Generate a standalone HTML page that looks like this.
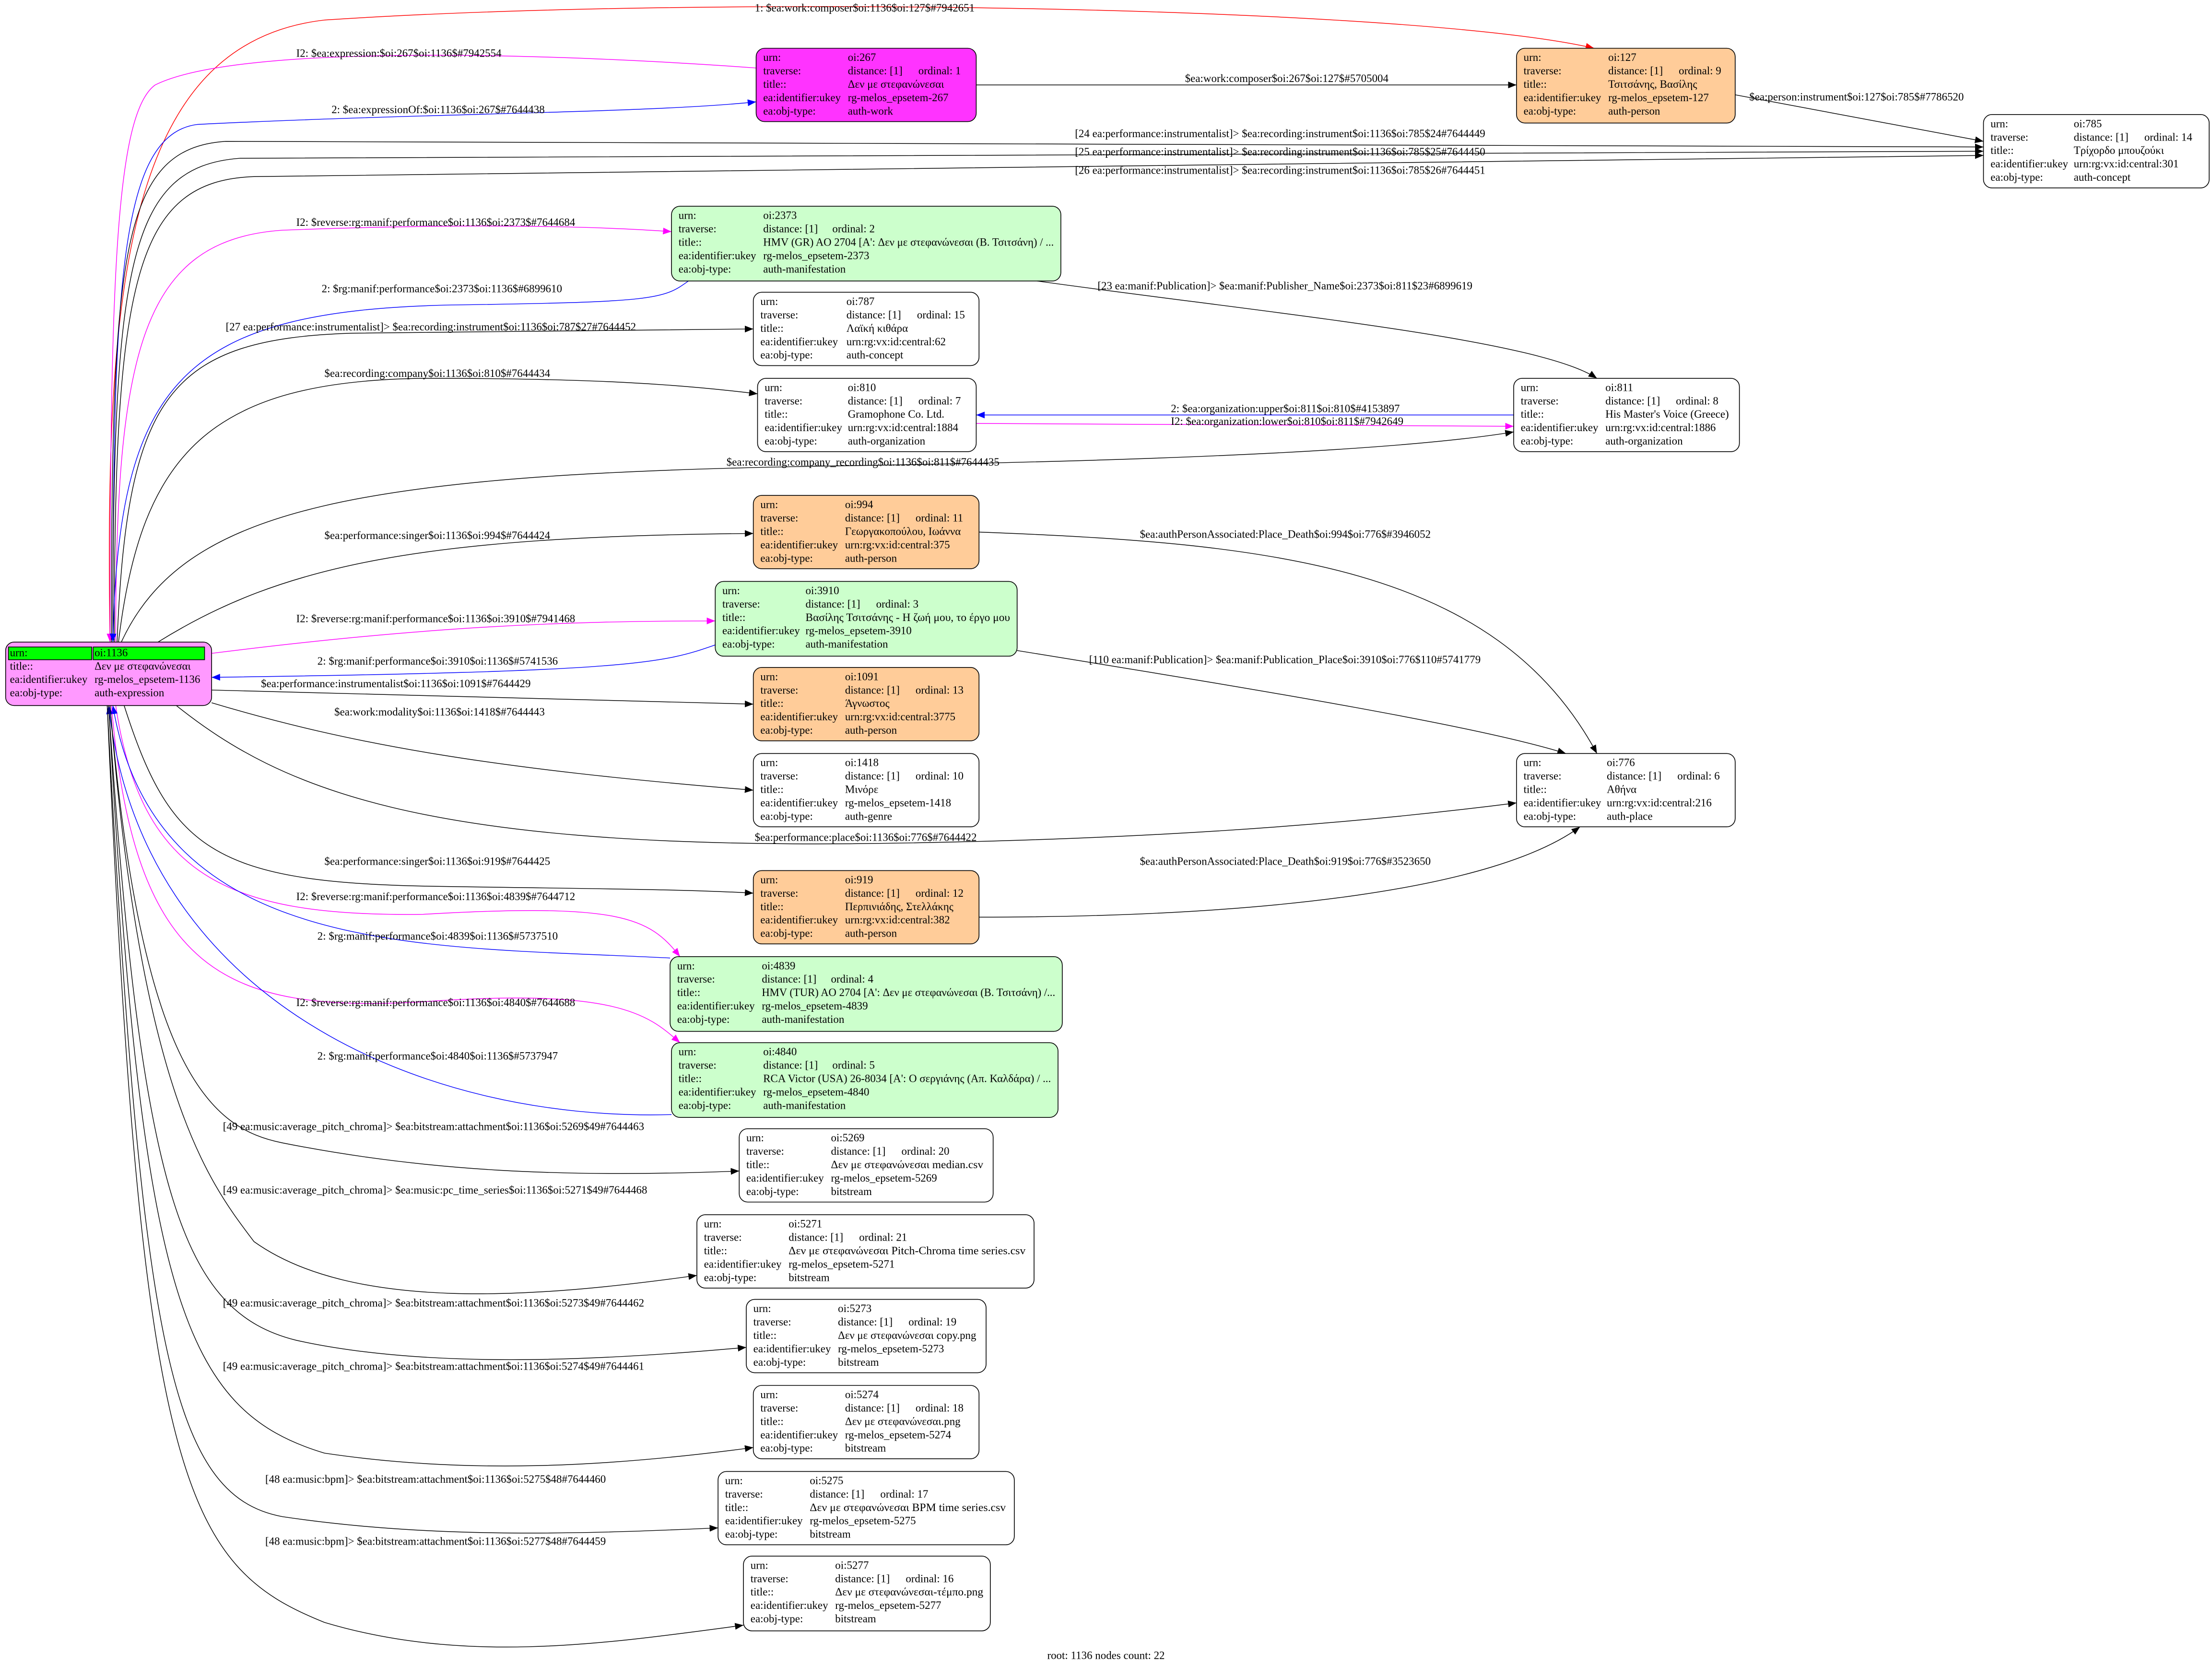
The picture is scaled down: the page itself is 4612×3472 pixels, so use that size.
<!DOCTYPE html>
<html><head><meta charset="utf-8"><style>
html,body{margin:0;padding:0;background:#fff}
svg{display:block}
text{font-family:"Liberation Serif","DejaVu Serif",serif;font-size:7.8px;fill:#000}
.n rect{stroke:#000;stroke-width:0.55}
.e{fill:none;stroke-width:0.5}
</style></head><body>
<svg width="4612" height="3472" viewBox="0 0 1568 1180" xmlns="http://www.w3.org/2000/svg">
<defs>
<marker id="ak" viewBox="0 0 10 10" refX="10" refY="5" markerWidth="6" markerHeight="6" markerUnits="userSpaceOnUse" orient="auto"><path d="M0,1 L10,5 L0,9z" fill="#000"/></marker>
<marker id="ar" viewBox="0 0 10 10" refX="10" refY="5" markerWidth="6" markerHeight="6" markerUnits="userSpaceOnUse" orient="auto"><path d="M0,1 L10,5 L0,9z" fill="#f00"/></marker>
<marker id="ab" viewBox="0 0 10 10" refX="10" refY="5" markerWidth="6" markerHeight="6" markerUnits="userSpaceOnUse" orient="auto"><path d="M0,1 L10,5 L0,9z" fill="#00f"/></marker>
<marker id="am" viewBox="0 0 10 10" refX="10" refY="5" markerWidth="6" markerHeight="6" markerUnits="userSpaceOnUse" orient="auto"><path d="M0,1 L10,5 L0,9z" fill="#f0f"/></marker>
</defs>
<rect width="1568" height="1180" fill="#fff"/>

<g>
<path class="e" stroke="#f00" marker-end="url(#ar)" d="M78,455 C74,200 90,30 230,14 C500,-4 1000,4 1130,34"/>
<text x="535" y="8">1: $ea:work:composer$oi:1136$oi:127$#7942651</text>
<path class="e" stroke="#f0f" marker-end="url(#am)" d="M536,48 C400,38 170,30 110,60 C82,80 78,200 78,455"/>
<text x="210" y="40">I2: $ea:expression:$oi:267$oi:1136$#7942554</text>
<path class="e" stroke="#00f" marker-end="url(#ab)" d="M80,455 C80,200 85,95 140,88 C300,80 460,80 536,72"/>
<text x="235" y="80">2: $ea:expressionOf:$oi:1136$oi:267$#7644438</text>
<path class="e" stroke="#000" marker-end="url(#ak)" d="M692,60 L1075,60"/>
<text x="840" y="58">$ea:work:composer$oi:267$oi:127$#5705004</text>
<path class="e" stroke="#000" marker-end="url(#ak)" d="M1230,67 L1406,100"/>
<text x="1240" y="71">$ea:person:instrument$oi:127$oi:785$#7786520</text>
<path class="e" stroke="#000" marker-end="url(#ak)" d="M79,455 C79,180 85,105 160,100 L1406,104"/>
<text x="762" y="97">[24 ea:performance:instrumentalist]&gt; $ea:recording:instrument$oi:1136$oi:785$24#7644449</text>
<path class="e" stroke="#000" marker-end="url(#ak)" d="M80,455 C80,190 90,118 170,112 L1406,107"/>
<text x="762" y="110">[25 ea:performance:instrumentalist]&gt; $ea:recording:instrument$oi:1136$oi:785$25#7644450</text>
<path class="e" stroke="#000" marker-end="url(#ak)" d="M81,455 C81,200 95,128 180,125 L1406,110"/>
<text x="762" y="123">[26 ea:performance:instrumentalist]&gt; $ea:recording:instrument$oi:1136$oi:785$26#7644451</text>
<path class="e" stroke="#f0f" marker-end="url(#am)" d="M82,455 C82,250 100,170 200,163 C330,158 420,160 476,164"/>
<text x="210" y="160">I2: $reverse:rg:manif:performance$oi:1136$oi:2373$#7644684</text>
<path class="e" stroke="#00f" marker-end="url(#ab)" d="M488,199 C470,212 465,214 320,216 C130,220 84,270 80,455"/>
<text x="228" y="207">2: $rg:manif:performance$oi:2373$oi:1136$#6899610</text>
<path class="e" stroke="#000" marker-end="url(#ak)" d="M83,455 C90,280 120,240 250,236 L534,233"/>
<text x="160" y="234">[27 ea:performance:instrumentalist]&gt; $ea:recording:instrument$oi:1136$oi:787$27#7644452</text>
<path class="e" stroke="#000" marker-end="url(#ak)" d="M84,455 C100,320 150,270 300,268 C420,268 480,272 537,279"/>
<text x="230" y="267">$ea:recording:company$oi:1136$oi:810$#7644434</text>
<path class="e" stroke="#000" marker-end="url(#ak)" d="M735,199 C900,222 1090,240 1132,268"/>
<text x="778" y="205">[23 ea:manif:Publication]&gt; $ea:manif:Publisher_Name$oi:2373$oi:811$23#6899619</text>
<path class="e" stroke="#00f" marker-end="url(#ab)" d="M1073,294 L692,294"/>
<text x="830" y="292">2: $ea:organization:upper$oi:811$oi:810$#4153897</text>
<path class="e" stroke="#f0f" marker-end="url(#am)" d="M692,300 L1073,302"/>
<text x="830" y="301">I2: $ea:organization:lower$oi:810$oi:811$#7942649</text>
<path class="e" stroke="#000" marker-end="url(#ak)" d="M86,455 C130,360 250,335 600,330 C850,326 1000,318 1073,306"/>
<text x="515" y="330">$ea:recording:company_recording$oi:1136$oi:811$#7644435</text>
<path class="e" stroke="#000" marker-end="url(#ak)" d="M112,455 C200,400 300,380 534,378"/>
<text x="230" y="382">$ea:performance:singer$oi:1136$oi:994$#7644424</text>
<path class="e" stroke="#000" marker-end="url(#ak)" d="M694,377 C900,385 1060,400 1132,534"/>
<text x="808" y="381">$ea:authPersonAssociated:Place_Death$oi:994$oi:776$#3946052</text>
<path class="e" stroke="#f0f" marker-end="url(#am)" d="M150,463 C300,444 400,440 507,440"/>
<text x="210" y="441">I2: $reverse:rg:manif:performance$oi:1136$oi:3910$#7941468</text>
<path class="e" stroke="#00f" marker-end="url(#ab)" d="M507,457 C470,470 450,476 150,480"/>
<text x="225" y="471">2: $rg:manif:performance$oi:3910$oi:1136$#5741536</text>
<path class="e" stroke="#000" marker-end="url(#ak)" d="M150,489 L534,499"/>
<text x="185" y="487">$ea:performance:instrumentalist$oi:1136$oi:1091$#7644429</text>
<path class="e" stroke="#000" marker-end="url(#ak)" d="M721,461 C900,490 1050,515 1110,534"/>
<text x="772" y="470">[110 ea:manif:Publication]&gt; $ea:manif:Publication_Place$oi:3910$oi:776$110#5741779</text>
<path class="e" stroke="#000" marker-end="url(#ak)" d="M150,498 C250,528 350,545 534,560"/>
<text x="237" y="507">$ea:work:modality$oi:1136$oi:1418$#7644443</text>
<path class="e" stroke="#000" marker-end="url(#ak)" d="M125,500 C200,560 300,600 600,598 C800,596 950,585 1075,569"/>
<text x="535" y="596">$ea:performance:place$oi:1136$oi:776$#7644422</text>
<path class="e" stroke="#000" marker-end="url(#ak)" d="M88,500 C120,600 150,625 300,628 C420,630 480,630 534,633"/>
<text x="230" y="613">$ea:performance:singer$oi:1136$oi:919$#7644425</text>
<path class="e" stroke="#000" marker-end="url(#ak)" d="M694,650 C900,650 1060,630 1120,586"/>
<text x="808" y="613">$ea:authPersonAssociated:Place_Death$oi:919$oi:776$#3523650</text>
<path class="e" stroke="#f0f" marker-end="url(#am)" d="M82,500 C100,620 160,650 300,648 C440,640 460,650 482,678"/>
<text x="210" y="638">I2: $reverse:rg:manif:performance$oi:1136$oi:4839$#7644712</text>
<path class="e" stroke="#00f" marker-end="url(#ab)" d="M475,679 C300,670 110,680 80,500"/>
<text x="225" y="666">2: $rg:manif:performance$oi:4839$oi:1136$#5737510</text>
<path class="e" stroke="#f0f" marker-end="url(#am)" d="M79,500 C95,690 160,718 300,710 C440,700 460,720 482,739"/>
<text x="210" y="713">I2: $reverse:rg:manif:performance$oi:1136$oi:4840$#7644688</text>
<path class="e" stroke="#00f" marker-end="url(#ab)" d="M476,790 C300,795 100,710 77,500"/>
<text x="225" y="751">2: $rg:manif:performance$oi:4840$oi:1136$#5737947</text>
<path class="e" stroke="#000" marker-end="url(#ak)" d="M78,500 C100,760 150,800 200,810 C300,830 400,835 524,830"/>
<text x="158" y="801">[49 ea:music:average_pitch_chroma]&gt; $ea:bitstream:attachment$oi:1136$oi:5269$49#7644463</text>
<path class="e" stroke="#000" marker-end="url(#ak)" d="M78,500 C100,780 150,840 180,880 C250,930 380,920 494,904"/>
<text x="158" y="846">[49 ea:music:average_pitch_chroma]&gt; $ea:music:pc_time_series$oi:1136$oi:5271$49#7644468</text>
<path class="e" stroke="#000" marker-end="url(#ak)" d="M77,500 C100,850 130,930 210,950 C300,970 420,965 529,955"/>
<text x="158" y="926">[49 ea:music:average_pitch_chroma]&gt; $ea:bitstream:attachment$oi:1136$oi:5273$49#7644462</text>
<path class="e" stroke="#000" marker-end="url(#ak)" d="M77,500 C100,920 130,1000 230,1030 C330,1045 430,1040 534,1026"/>
<text x="158" y="971">[49 ea:music:average_pitch_chroma]&gt; $ea:bitstream:attachment$oi:1136$oi:5274$49#7644461</text>
<path class="e" stroke="#000" marker-end="url(#ak)" d="M76,500 C100,950 120,1060 200,1075 C300,1090 400,1088 509,1083"/>
<text x="188" y="1051">[48 ea:music:bpm]&gt; $ea:bitstream:attachment$oi:1136$oi:5275$48#7644460</text>
<path class="e" stroke="#000" marker-end="url(#ak)" d="M76,500 C100,1050 130,1110 230,1150 C330,1180 430,1165 527,1152"/>
<text x="188" y="1095">[48 ea:music:bpm]&gt; $ea:bitstream:attachment$oi:1136$oi:5277$48#7644459</text>
</g>

<g class="n">
<rect x="4" y="455" width="146" height="45" rx="6" fill="#ff99ff"/>
<rect x="6" y="458.5" width="59" height="9" fill="#00ff00" stroke="none"/>
<rect x="66" y="458.5" width="79" height="9" fill="#00ff00" stroke="none"/>
<text x="7" y="465">urn:</text><text x="67" y="465">oi:1136</text>
<text x="7" y="474.5">title::</text><text x="67" y="474.5">Δεν με στεφανώνεσαι</text>
<text x="7" y="484">ea:identifier:ukey</text><text x="67" y="484">rg-melos_epsetem-1136</text>
<text x="7" y="493.5">ea:obj-type:</text><text x="67" y="493.5">auth-expression</text>

<rect x="536" y="34" width="156" height="52" rx="6" fill="#ff33ff"/>
<text x="541" y="43">urn:</text><text x="601" y="43">oi:267</text>
<text x="541" y="52.5">traverse:</text><text x="601" y="52.5">distance: [1]</text><text x="651" y="52.5">ordinal: 1</text>
<text x="541" y="62">title::</text><text x="601" y="62">Δεν με στεφανώνεσαι</text>
<text x="541" y="71.5">ea:identifier:ukey</text><text x="601" y="71.5">rg-melos_epsetem-267</text>
<text x="541" y="81">ea:obj-type:</text><text x="601" y="81">auth-work</text>

<rect x="1075" y="34" width="155" height="53" rx="6" fill="#ffcc99"/>
<text x="1080" y="43">urn:</text><text x="1140" y="43">oi:127</text>
<text x="1080" y="52.5">traverse:</text><text x="1140" y="52.5">distance: [1]</text><text x="1190" y="52.5">ordinal: 9</text>
<text x="1080" y="62">title::</text><text x="1140" y="62">Τσιτσάνης, Βασίλης</text>
<text x="1080" y="71.5">ea:identifier:ukey</text><text x="1140" y="71.5">rg-melos_epsetem-127</text>
<text x="1080" y="81">ea:obj-type:</text><text x="1140" y="81">auth-person</text>

<rect x="1406" y="81" width="160" height="52" rx="6" fill="#fff"/>
<text x="1411" y="90">urn:</text><text x="1470" y="90">oi:785</text>
<text x="1411" y="99.5">traverse:</text><text x="1470" y="99.5">distance: [1]</text><text x="1520" y="99.5">ordinal: 14</text>
<text x="1411" y="109">title::</text><text x="1470" y="109">Τρίχορδο μπουζούκι</text>
<text x="1411" y="118.5">ea:identifier:ukey</text><text x="1470" y="118.5">urn:rg:vx:id:central:301</text>
<text x="1411" y="128">ea:obj-type:</text><text x="1470" y="128">auth-concept</text>

<rect x="476" y="146" width="276" height="53" rx="6" fill="#ccffcc"/>
<text x="481" y="155">urn:</text><text x="541" y="155">oi:2373</text>
<text x="481" y="164.5">traverse:</text><text x="541" y="164.5">distance: [1]</text><text x="590" y="164.5">ordinal: 2</text>
<text x="481" y="174">title::</text><text x="541" y="174" textLength="206" lengthAdjust="spacingAndGlyphs">HMV (GR) AO 2704 [A': Δεν με στεφανώνεσαι (Β. Τσιτσάνη) / ...</text>
<text x="481" y="183.5">ea:identifier:ukey</text><text x="541" y="183.5">rg-melos_epsetem-2373</text>
<text x="481" y="193">ea:obj-type:</text><text x="541" y="193">auth-manifestation</text>

<rect x="534" y="207" width="160" height="52" rx="6" fill="#fff"/>
<text x="539" y="216">urn:</text><text x="600" y="216">oi:787</text>
<text x="539" y="225.5">traverse:</text><text x="600" y="225.5">distance: [1]</text><text x="650" y="225.5">ordinal: 15</text>
<text x="539" y="235">title::</text><text x="600" y="235">Λαϊκή κιθάρα</text>
<text x="539" y="244.5">ea:identifier:ukey</text><text x="600" y="244.5">urn:rg:vx:id:central:62</text>
<text x="539" y="254">ea:obj-type:</text><text x="600" y="254">auth-concept</text>

<rect x="537" y="268" width="155" height="52" rx="6" fill="#fff"/>
<text x="542" y="277">urn:</text><text x="601" y="277">oi:810</text>
<text x="542" y="286.5">traverse:</text><text x="601" y="286.5">distance: [1]</text><text x="651" y="286.5">ordinal: 7</text>
<text x="542" y="296">title::</text><text x="601" y="296">Gramophone Co. Ltd.</text>
<text x="542" y="305.5">ea:identifier:ukey</text><text x="601" y="305.5">urn:rg:vx:id:central:1884</text>
<text x="542" y="315">ea:obj-type:</text><text x="601" y="315">auth-organization</text>

<rect x="1073" y="268" width="160" height="52" rx="6" fill="#fff"/>
<text x="1078" y="277">urn:</text><text x="1138" y="277">oi:811</text>
<text x="1078" y="286.5">traverse:</text><text x="1138" y="286.5">distance: [1]</text><text x="1188" y="286.5">ordinal: 8</text>
<text x="1078" y="296">title::</text><text x="1138" y="296">His Master's Voice (Greece)</text>
<text x="1078" y="305.5">ea:identifier:ukey</text><text x="1138" y="305.5">urn:rg:vx:id:central:1886</text>
<text x="1078" y="315">ea:obj-type:</text><text x="1138" y="315">auth-organization</text>

<rect x="534" y="351" width="160" height="52" rx="6" fill="#ffcc99"/>
<text x="539" y="360">urn:</text><text x="599" y="360">oi:994</text>
<text x="539" y="369.5">traverse:</text><text x="599" y="369.5">distance: [1]</text><text x="649" y="369.5">ordinal: 11</text>
<text x="539" y="379">title::</text><text x="599" y="379">Γεωργακοπούλου, Ιωάννα</text>
<text x="539" y="388.5">ea:identifier:ukey</text><text x="599" y="388.5">urn:rg:vx:id:central:375</text>
<text x="539" y="398">ea:obj-type:</text><text x="599" y="398">auth-person</text>

<rect x="507" y="412" width="214" height="53" rx="6" fill="#ccffcc"/>
<text x="512" y="421">urn:</text><text x="571" y="421">oi:3910</text>
<text x="512" y="430.5">traverse:</text><text x="571" y="430.5">distance: [1]</text><text x="621" y="430.5">ordinal: 3</text>
<text x="512" y="440">title::</text><text x="571" y="440" textLength="145" lengthAdjust="spacingAndGlyphs">Βασίλης Τσιτσάνης - Η ζωή μου, το έργο μου</text>
<text x="512" y="449.5">ea:identifier:ukey</text><text x="571" y="449.5">rg-melos_epsetem-3910</text>
<text x="512" y="459">ea:obj-type:</text><text x="571" y="459">auth-manifestation</text>

<rect x="534" y="473" width="160" height="52" rx="6" fill="#ffcc99"/>
<text x="539" y="482">urn:</text><text x="599" y="482">oi:1091</text>
<text x="539" y="491.5">traverse:</text><text x="599" y="491.5">distance: [1]</text><text x="649" y="491.5">ordinal: 13</text>
<text x="539" y="501">title::</text><text x="599" y="501">Άγνωστος</text>
<text x="539" y="510.5">ea:identifier:ukey</text><text x="599" y="510.5">urn:rg:vx:id:central:3775</text>
<text x="539" y="520">ea:obj-type:</text><text x="599" y="520">auth-person</text>

<rect x="534" y="534" width="160" height="52" rx="6" fill="#fff"/>
<text x="539" y="543">urn:</text><text x="599" y="543">oi:1418</text>
<text x="539" y="552.5">traverse:</text><text x="599" y="552.5">distance: [1]</text><text x="649" y="552.5">ordinal: 10</text>
<text x="539" y="562">title::</text><text x="599" y="562">Μινόρε</text>
<text x="539" y="571.5">ea:identifier:ukey</text><text x="599" y="571.5">rg-melos_epsetem-1418</text>
<text x="539" y="581">ea:obj-type:</text><text x="599" y="581">auth-genre</text>

<rect x="1075" y="534" width="155" height="52" rx="6" fill="#fff"/>
<text x="1080" y="543">urn:</text><text x="1139" y="543">oi:776</text>
<text x="1080" y="552.5">traverse:</text><text x="1139" y="552.5">distance: [1]</text><text x="1189" y="552.5">ordinal: 6</text>
<text x="1080" y="562">title::</text><text x="1139" y="562">Αθήνα</text>
<text x="1080" y="571.5">ea:identifier:ukey</text><text x="1139" y="571.5">urn:rg:vx:id:central:216</text>
<text x="1080" y="581">ea:obj-type:</text><text x="1139" y="581">auth-place</text>

<rect x="534" y="617" width="160" height="52" rx="6" fill="#ffcc99"/>
<text x="539" y="626">urn:</text><text x="599" y="626">oi:919</text>
<text x="539" y="635.5">traverse:</text><text x="599" y="635.5">distance: [1]</text><text x="649" y="635.5">ordinal: 12</text>
<text x="539" y="645">title::</text><text x="599" y="645">Περπινιάδης, Στελλάκης</text>
<text x="539" y="654.5">ea:identifier:ukey</text><text x="599" y="654.5">urn:rg:vx:id:central:382</text>
<text x="539" y="664">ea:obj-type:</text><text x="599" y="664">auth-person</text>

<rect x="475" y="678" width="278" height="53" rx="6" fill="#ccffcc"/>
<text x="480" y="687">urn:</text><text x="540" y="687">oi:4839</text>
<text x="480" y="696.5">traverse:</text><text x="540" y="696.5">distance: [1]</text><text x="589" y="696.5">ordinal: 4</text>
<text x="480" y="706">title::</text><text x="540" y="706" textLength="208" lengthAdjust="spacingAndGlyphs">HMV (TUR) AO 2704 [A': Δεν με στεφανώνεσαι (Β. Τσιτσάνη) /...</text>
<text x="480" y="715.5">ea:identifier:ukey</text><text x="540" y="715.5">rg-melos_epsetem-4839</text>
<text x="480" y="725">ea:obj-type:</text><text x="540" y="725">auth-manifestation</text>

<rect x="476" y="739" width="274" height="53" rx="6" fill="#ccffcc"/>
<text x="481" y="748">urn:</text><text x="541" y="748">oi:4840</text>
<text x="481" y="757.5">traverse:</text><text x="541" y="757.5">distance: [1]</text><text x="590" y="757.5">ordinal: 5</text>
<text x="481" y="767">title::</text><text x="541" y="767" textLength="204" lengthAdjust="spacingAndGlyphs">RCA Victor (USA) 26-8034 [A': Ο σεργιάνης (Απ. Καλδάρα) / ...</text>
<text x="481" y="776.5">ea:identifier:ukey</text><text x="541" y="776.5">rg-melos_epsetem-4840</text>
<text x="481" y="786">ea:obj-type:</text><text x="541" y="786">auth-manifestation</text>

<rect x="524" y="800" width="180" height="52" rx="6" fill="#fff"/>
<text x="529" y="809">urn:</text><text x="589" y="809">oi:5269</text>
<text x="529" y="818.5">traverse:</text><text x="589" y="818.5">distance: [1]</text><text x="639" y="818.5">ordinal: 20</text>
<text x="529" y="828">title::</text><text x="589" y="828" textLength="108" lengthAdjust="spacingAndGlyphs">Δεν με στεφανώνεσαι median.csv</text>
<text x="529" y="837.5">ea:identifier:ukey</text><text x="589" y="837.5">rg-melos_epsetem-5269</text>
<text x="529" y="847">ea:obj-type:</text><text x="589" y="847">bitstream</text>

<rect x="494" y="861" width="239" height="52" rx="6" fill="#fff"/>
<text x="499" y="870">urn:</text><text x="559" y="870">oi:5271</text>
<text x="499" y="879.5">traverse:</text><text x="559" y="879.5">distance: [1]</text><text x="609" y="879.5">ordinal: 21</text>
<text x="499" y="889">title::</text><text x="559" y="889" textLength="168" lengthAdjust="spacingAndGlyphs">Δεν με στεφανώνεσαι Pitch-Chroma time series.csv</text>
<text x="499" y="898.5">ea:identifier:ukey</text><text x="559" y="898.5">rg-melos_epsetem-5271</text>
<text x="499" y="908">ea:obj-type:</text><text x="559" y="908">bitstream</text>

<rect x="529" y="921" width="170" height="52" rx="6" fill="#fff"/>
<text x="534" y="930">urn:</text><text x="594" y="930">oi:5273</text>
<text x="534" y="939.5">traverse:</text><text x="594" y="939.5">distance: [1]</text><text x="644" y="939.5">ordinal: 19</text>
<text x="534" y="949">title::</text><text x="594" y="949" textLength="98" lengthAdjust="spacingAndGlyphs">Δεν με στεφανώνεσαι copy.png</text>
<text x="534" y="958.5">ea:identifier:ukey</text><text x="594" y="958.5">rg-melos_epsetem-5273</text>
<text x="534" y="968">ea:obj-type:</text><text x="594" y="968">bitstream</text>

<rect x="534" y="982" width="160" height="52" rx="6" fill="#fff"/>
<text x="539" y="991">urn:</text><text x="599" y="991">oi:5274</text>
<text x="539" y="1000.5">traverse:</text><text x="599" y="1000.5">distance: [1]</text><text x="649" y="1000.5">ordinal: 18</text>
<text x="539" y="1010">title::</text><text x="599" y="1010">Δεν με στεφανώνεσαι.png</text>
<text x="539" y="1019.5">ea:identifier:ukey</text><text x="599" y="1019.5">rg-melos_epsetem-5274</text>
<text x="539" y="1029">ea:obj-type:</text><text x="599" y="1029">bitstream</text>

<rect x="509" y="1043" width="210" height="52" rx="6" fill="#fff"/>
<text x="514" y="1052">urn:</text><text x="574" y="1052">oi:5275</text>
<text x="514" y="1061.5">traverse:</text><text x="574" y="1061.5">distance: [1]</text><text x="624" y="1061.5">ordinal: 17</text>
<text x="514" y="1071">title::</text><text x="574" y="1071" textLength="139" lengthAdjust="spacingAndGlyphs">Δεν με στεφανώνεσαι BPM time series.csv</text>
<text x="514" y="1080.5">ea:identifier:ukey</text><text x="574" y="1080.5">rg-melos_epsetem-5275</text>
<text x="514" y="1090">ea:obj-type:</text><text x="574" y="1090">bitstream</text>

<rect x="527" y="1103" width="175" height="53" rx="6" fill="#fff"/>
<text x="532" y="1112">urn:</text><text x="592" y="1112">oi:5277</text>
<text x="532" y="1121.5">traverse:</text><text x="592" y="1121.5">distance: [1]</text><text x="642" y="1121.5">ordinal: 16</text>
<text x="532" y="1131">title::</text><text x="592" y="1131" textLength="105" lengthAdjust="spacingAndGlyphs">Δεν με στεφανώνεσαι-τέμπο.png</text>
<text x="532" y="1140.5">ea:identifier:ukey</text><text x="592" y="1140.5">rg-melos_epsetem-5277</text>
<text x="532" y="1150">ea:obj-type:</text><text x="592" y="1150">bitstream</text>
</g>

<text x="784" y="1176" text-anchor="middle">root: 1136 nodes count: 22</text>
</svg>
</body></html>
